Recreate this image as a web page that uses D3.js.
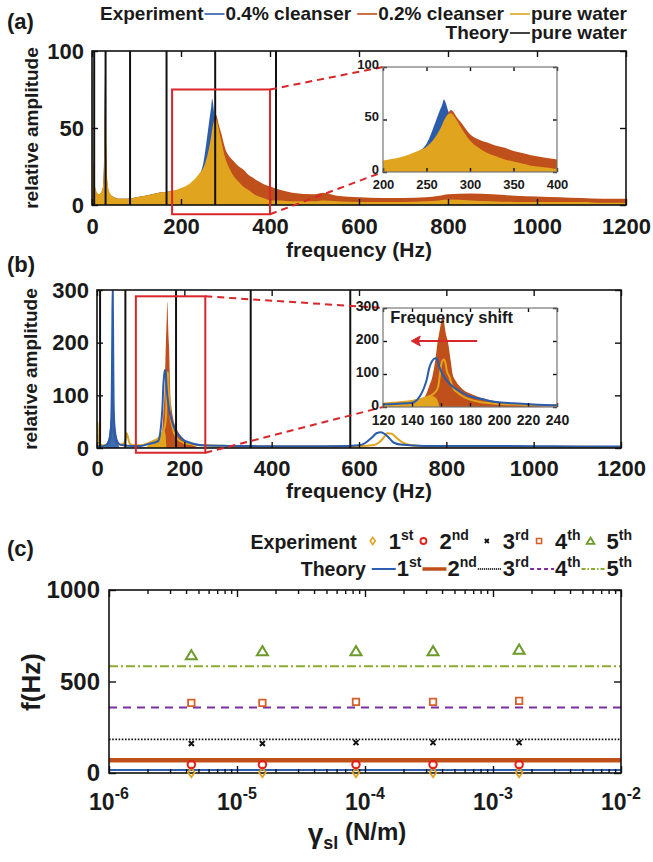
<!DOCTYPE html>
<html><head><meta charset="utf-8">
<script src="https://cdn.jsdelivr.net/npm/d3@7/dist/d3.min.js"></script>
<style>html,body{margin:0;padding:0;background:#fff;}</style>
</head><body>
<svg id="chart" width="653" height="862" xmlns="http://www.w3.org/2000/svg"></svg>
<script>
// ================= DATA =================
// ---- Panel (a): spectra (upper envelope of relative amplitude) ----
const freqA = [0, 1, 2, 4, 7, 10, 15, 20, 25, 27, 29, 30, 31, 33, 36, 40, 50, 60, 80, 100, 120, 150, 180, 200, 220, 240, 250, 260, 265, 268, 270, 272, 275, 278, 280, 285, 290, 300, 310, 320, 330, 340, 350, 360, 370, 380, 390, 400, 420, 450, 500, 520, 550, 600, 650, 700, 750, 780, 800, 850, 900, 950, 1000, 1050, 1100, 1150, 1200];
const amp04A = [20, 95, 35, 15, 10, 8, 6, 7, 12, 30, 80, 100, 60, 20, 10, 7, 5, 4, 4, 5, 6, 8, 9, 10, 13, 19, 27, 47, 58, 64, 69, 66, 58, 52, 48, 40, 34, 26, 20, 15, 12, 10, 8, 6, 5, 4, 3.5, 3, 3, 2.5, 2.5, 2.5, 2, 2, 2, 2, 2, 2, 2.5, 3, 3, 2, 2, 2, 1.5, 1.5, 1.5];
const amp02A = [15, 90, 35, 18, 11, 8, 7, 8, 12, 25, 65, 93, 55, 22, 11, 7, 5, 4, 4, 5, 6, 8, 9, 10, 13, 18, 22, 30, 36, 42, 47, 52, 56, 59, 58, 52, 47, 36, 31, 28, 25, 23, 20, 18, 16, 14.5, 13, 12, 10, 8, 7, 8, 6, 5, 4.5, 4.5, 5, 6, 7, 7.5, 7, 6, 5.5, 5, 4.5, 4, 4];
const ampWaterA = [20, 100, 40, 20, 12, 9, 7, 8, 12, 25, 70, 95, 60, 25, 12, 8, 5, 4, 4, 5, 6, 8, 9, 11, 14, 20, 24, 33, 40, 45, 49, 52, 55, 56, 55, 49, 42, 30, 23, 18, 15, 12, 10, 8, 6, 5, 4, 3, 3, 2.5, 2.5, 3, 2.5, 2, 2, 2, 2.5, 3, 3.5, 3, 2.5, 2, 2, 2, 2, 1.5, 1.5];
const theoryA = [4.9, 30.5, 85.5, 167.5, 276.8, 413.5];
const xTicksA = [0, 200, 400, 600, 800, 1000, 1200];
const yTicksA = [0, 50, 100];
const xTicksAInset = [200, 250, 300, 350, 400];
const yTicksAInset = [0, 50, 100];

// ---- Panel (b) ----
const freq04B = [0, 2, 5, 10, 20, 28, 32, 34, 35, 36, 37, 38, 40, 45, 50, 60, 80, 100, 120, 130, 140, 145, 148, 150, 152, 154, 156, 157, 159, 161, 164, 168, 172, 176, 181, 186, 192, 198, 210, 221, 240, 300, 400, 500, 580, 600, 615, 630, 640, 650, 660, 670, 680, 700, 750, 800, 900, 1000, 1100, 1200];
const amp04B = [5, 4, 3, 3, 5, 15, 40, 120, 220, 310, 200, 90, 40, 15, 8, 5, 4, 4, 8, 10, 13, 30, 55, 80, 120, 140, 148, 147, 120, 100, 80, 62, 50, 40, 31, 26, 20, 15, 11, 8, 5, 4, 3.5, 3.5, 4, 5, 10, 20, 28, 30, 26, 18, 10, 6, 4, 4, 4, 3.5, 3, 3];
const freq04BNoise = [16, 22, 27, 30, 33, 35, 36, 38, 40, 43, 47, 52];
const amp04BNoise = [0, 8, 20, 40, 70, 100, 105, 75, 55, 30, 12, 0];
const freq02B = [0, 100, 130, 140, 145, 148, 150, 152, 154, 156, 157.5, 159, 160, 161, 162, 163, 165, 167, 168, 170, 173, 176, 180, 185, 190, 195, 200, 210, 220, 230, 250, 1200];
const amp02B = [1, 1, 2, 5, 11, 25, 41, 65, 91, 140, 192, 230, 255, 278, 262, 230, 192, 130, 100, 80, 62, 50, 41, 32, 25, 20, 16, 11, 5, 2, 1, 1];
const freqWaterB = [0, 1, 2, 4, 8, 15, 25, 32, 35, 36, 37, 40, 50, 60, 65, 68, 71, 75, 85, 100, 120, 130, 140, 150, 155, 158, 159, 160, 161, 162, 163, 164, 166, 168, 172, 176, 182, 187, 198, 215, 240, 300, 400, 500, 600, 630, 645, 655, 665, 675, 685, 700, 720, 750, 800, 1000, 1200];
const ampWaterB = [20, 50, 25, 10, 6, 5, 6, 20, 60, 100, 50, 15, 6, 8, 15, 28, 20, 8, 5, 5, 10, 14, 18, 30, 40, 60, 90, 125, 140, 144, 135, 110, 90, 60, 42, 30, 20, 15, 10, 7, 5, 4, 3, 3, 3.5, 5, 10, 18, 28, 27, 20, 10, 5, 3.5, 3, 2.5, 2];
const freqWaterBNoise = [112, 120, 130, 140, 146, 150, 154, 157, 159];
const ampWaterBNoise = [0, 8, 14, 20, 25, 28, 33, 25, 0];
const theoryB = [7, 65, 181, 352, 580];
const xTicksB = [0, 200, 400, 600, 800, 1000, 1200];
const yTicksB = [0, 100, 200, 300];
const xTicksBInset = [120, 140, 160, 180, 200, 220, 240];
const yTicksBInset = [0, 100, 200, 300];

// ---- Panel (c) ----
const gammaExp = [4.4e-6, 1.58e-5, 8.5e-5, 3.4e-4, 1.6e-3];
const exp1st = [3, 3, 3, 3, 3];
const exp2nd = [46, 46, 46, 46, 46];
const exp3rd = [161, 161, 166, 166, 166];
const exp4th = [383, 383, 389, 389, 394];
const exp5th = [644, 666, 666, 666, 675];
const theoryC = [16, 70, 184, 358, 584];
const modeLabels = ['1', '2', '3', '4', '5'];
const modeSup = ['st', 'nd', 'rd', 'th', 'th'];
const xTicksC = [1e-6, 1e-5, 1e-4, 1e-3, 1e-2];
const xTickExpC = ['-6', '-5', '-4', '-3', '-2'];
const yTicksC = [0, 500, 1000];

// ================= STYLE =================
const FONT = "'Liberation Sans', Arial, Helvetica, sans-serif";
const INK = '#1a1a1a';
const BLUE = '#2b5cab', ORANGE = '#bf4f1b', GOLD = '#e0a41e';
const RED = '#d8262a';
const C1 = '#e0a020', C2 = '#e3201b', C3 = '#111', C4 = '#d2612c', C5 = '#6b9b2b';
const T1 = '#2e5fae', T2 = '#c0501a', T3 = '#111', T4 = '#7b2f9e', T5 = '#8aab2f';

const svg = d3.select('#chart');
const defs = svg.append('defs');
function clip(id, x0, y0, w, h) {
  defs.append('clipPath').attr('id', id).append('rect').attr('x', x0).attr('y', y0).attr('width', w).attr('height', h);
  return `url(#${id})`;
}
function styleAxis(sel, fs) {
  sel.attr('font-family', FONT).attr('font-size', fs).attr('font-weight', 'bold');
  sel.select('.domain').remove();
  sel.selectAll('.tick line').attr('stroke', '#111').attr('stroke-width', 1.4);
  sel.selectAll('.tick text').attr('fill', INK);
}
function boxAxes(g, x, y, o) {
  const [x0, x1] = x.range(); const [yb, yt] = y.range();
  const b = g.append('g').attr('transform', `translate(0,${yb})`)
    .call(d3.axisBottom(x).tickValues(o.xt).tickSize(-o.ts).tickPadding(o.xp).tickFormat(d => d));
  styleAxis(b, o.fs);
  const t = g.append('g').attr('transform', `translate(0,${yt})`)
    .call(d3.axisTop(x).tickValues(o.xt).tickSize(-o.ts).tickFormat(''));
  styleAxis(t, o.fs);
  const l = g.append('g').attr('transform', `translate(${x0},0)`)
    .call(d3.axisLeft(y).tickValues(o.yt).tickSize(-o.ts).tickPadding(o.yp).tickFormat(d => d));
  styleAxis(l, o.fs);
  if (o.ydy !== undefined) l.selectAll('.tick text').attr('dy', o.ydy);
  const r = g.append('g').attr('transform', `translate(${x1},0)`)
    .call(d3.axisRight(y).tickValues(o.yt).tickSize(-o.ts).tickFormat(''));
  styleAxis(r, o.fs);
  g.append('rect').attr('x', x0).attr('y', yt).attr('width', x1 - x0).attr('height', yb - yt)
    .attr('fill', 'none').attr('stroke', o.frame || '#111').attr('stroke-width', o.fw || 1.6);
}
function areaGen(x, y) {
  return d3.area().x(d => x(d[0])).y0(y(0)).y1(d => y(d[1])).curve(d3.curveMonotoneX);
}
function lineGen(x, y) {
  return d3.line().x(d => x(d[0])).y(d => y(d[1])).curve(d3.curveMonotoneX);
}
function text(g, x, y, s, fs, anchor) {
  return g.append('text').attr('x', x).attr('y', y).attr('font-family', FONT).attr('font-weight', 'bold')
    .attr('font-size', fs).attr('fill', INK).attr('text-anchor', anchor || 'start').text(s);
}
function drawMarker(g, shape, cx, cy, s, color, sw) {
  let p;
  if (shape === 'circle') {
    g.append('circle').attr('cx', cx).attr('cy', cy).attr('r', s / 2).attr('fill', 'none').attr('stroke', color).attr('stroke-width', sw);
    return;
  }
  if (shape === 'diamond') p = `M${cx},${cy - s * 0.6}L${cx + s * 0.42},${cy}L${cx},${cy + s * 0.6}L${cx - s * 0.42},${cy}Z`;
  if (shape === 'square') p = `M${cx - s / 2},${cy - s / 2}h${s}v${s}h${-s}Z`;
  if (shape === 'triangle') p = `M${cx},${cy - s * 0.5}L${cx + s * 0.55},${cy + s * 0.42}L${cx - s * 0.55},${cy + s * 0.42}Z`;
  if (shape === 'x') p = `M${cx - s / 2},${cy - s / 2}L${cx + s / 2},${cy + s / 2}M${cx - s / 2},${cy + s / 2}L${cx + s / 2},${cy - s / 2}`;
  g.append('path').attr('d', p).attr('fill', 'none').attr('stroke', color).attr('stroke-width', sw).attr('stroke-linejoin', 'miter');
}
function legendRow(g, items, xRight, yBase) {
  let x = 0; const placed = [];
  for (const it of items) {
    if (it.gap !== undefined) { x += it.gap; continue; }
    if (it.text !== undefined) {
      const t = g.append('text').attr('y', yBase).attr('font-family', FONT).attr('font-weight', 'bold')
        .attr('font-size', it.fs).attr('fill', INK);
      t.append('tspan').text(it.text);
      if (it.sup) t.append('tspan').attr('font-size', Math.round(it.fs * 0.64)).attr('dy', -it.fs * 0.42).text(it.sup);
      const w = t.node().getComputedTextLength();
      placed.push({ kind: 'text', x, t }); x += w;
    } else {
      placed.push({ kind: 'sym', x, it }); x += it.w;
    }
  }
  const off = xRight - x;
  for (const p of placed) {
    if (p.kind === 'text') { p.t.attr('x', p.x + off); continue; }
    const it = p.it, cy = yBase - (it.dy || 6), x0 = p.x + off;
    if (it.line) g.append('line').attr('x1', x0 + 1).attr('x2', x0 + it.w - 1).attr('y1', cy).attr('y2', cy)
      .attr('stroke', it.color).attr('stroke-width', it.sw || 1.6).attr('stroke-dasharray', it.dash || null);
    if (it.marker) drawMarker(g, it.marker, x0 + it.w / 2, cy, it.size, it.color, it.sw || 1.5);
  }
}

// ================= PANEL (a) =================
const gA = svg.append('g');
const xA = d3.scaleLinear([0, 1200], [92, 626]);
const yA = d3.scaleLinear([0, 100], [205, 51]);
const clipA = clip('clipA', 92, 51, 534, 154);
const pa = gA.append('g').attr('clip-path', clipA);
const seriesA = [[amp04A, BLUE], [amp02A, ORANGE], [ampWaterA, GOLD]];
seriesA.forEach(([v, c]) => pa.append('path').datum(d3.zip(freqA, v)).attr('d', areaGen(xA, yA)).attr('fill', c));
pa.selectAll('line.th').data(theoryA).join('line').attr('class', 'th')
  .attr('x1', d => xA(d)).attr('x2', d => xA(d)).attr('y1', yA(0)).attr('y2', yA(100))
  .attr('stroke', '#111').attr('stroke-width', 2);
boxAxes(gA, xA, yA, { xt: xTicksA, yt: yTicksA, ts: 6, xp: 13, yp: 8, fs: 22 });
text(gA, 7, 29, '(a)', 22);
text(gA, (92 + 626) / 2, 257, 'frequency (Hz)', 21, 'middle');
text(gA, 0, 0, 'relative amplitude', 19, 'middle').attr('transform', `translate(38,128) rotate(-90)`);
// legend (a)
legendRow(gA, [
  { text: 'Experiment', fs: 19 }, { line: true, color: BLUE, w: 22, sw: 1.6 }, { text: '0.4% cleanser', fs: 19 }, { gap: 5 },
  { line: true, color: ORANGE, w: 22, sw: 1.6 }, { text: '0.2% cleanser', fs: 19 }, { gap: 5 },
  { line: true, color: GOLD, w: 22, sw: 1.6 }, { text: 'pure water', fs: 19 }
], 627, 20);
legendRow(gA, [
  { text: 'Theory', fs: 19 }, { line: true, color: '#111', w: 22, sw: 1.6 }, { text: 'pure water', fs: 19 }
], 627, 39);
// zoom box (a)
const rA = { f0: 180, f1: 400, a0: -6, a1: 75 };
const insA = { x0: 383, x1: 557, y0: 67, y1: 172 };
gA.append('rect').attr('x', xA(rA.f0)).attr('y', yA(rA.a1)).attr('width', xA(rA.f1) - xA(rA.f0)).attr('height', yA(rA.a0) - yA(rA.a1))
  .attr('fill', 'none').attr('stroke', RED).attr('stroke-width', 2);
[[yA(rA.a1), insA.y0], [yA(rA.a0), insA.y1]].forEach(([ys, ye]) =>
  gA.append('line').attr('x1', xA(rA.f1)).attr('y1', ys).attr('x2', insA.x0).attr('y2', ye)
    .attr('stroke', RED).attr('stroke-width', 2).attr('stroke-dasharray', '7,5'));
// inset (a)
const giA = gA.append('g');
const xAi = d3.scaleLinear([200, 400], [insA.x0, insA.x1]);
const yAi = d3.scaleLinear([0, 100], [insA.y1, insA.y0]);
giA.append('rect').attr('x', insA.x0).attr('y', insA.y0).attr('width', insA.x1 - insA.x0).attr('height', insA.y1 - insA.y0).attr('fill', '#fff');
const piA = giA.append('g').attr('clip-path', clip('clipAi', insA.x0, insA.y0, insA.x1 - insA.x0, insA.y1 - insA.y0));
seriesA.forEach(([v, c]) => piA.append('path').datum(d3.zip(freqA, v)).attr('d', areaGen(xAi, yAi)).attr('fill', c));
boxAxes(giA, xAi, yAi, { xt: xTicksAInset, yt: yTicksAInset, ts: 4, xp: 8, yp: 4, fs: 13, frame: '#777', fw: 1.2, ydy: '0.1em' });

// ================= PANEL (b) =================
const gB = svg.append('g');
const xB = d3.scaleLinear([0, 1200], [97, 621]);
const yB = d3.scaleLinear([0, 300], [448, 290]);
const pb = gB.append('g').attr('clip-path', clip('clipB', 97, 290, 524, 158));
function drawB(p, x, y) {
  p.append('path').datum(d3.zip(freq02B, amp02B)).attr('d', areaGen(x, y)).attr('fill', ORANGE);
  p.append('path').datum(d3.zip(freqWaterBNoise, ampWaterBNoise)).attr('d', areaGen(x, y)).attr('fill', GOLD);
  p.append('path').datum(d3.zip(freqWaterB, ampWaterB)).attr('d', lineGen(x, y)).attr('fill', 'none').attr('stroke', GOLD).attr('stroke-width', 2);
  p.append('path').datum(d3.zip(freq04BNoise, amp04BNoise)).attr('d', areaGen(x, y)).attr('fill', BLUE).attr('opacity', 0.9);
  p.append('path').datum(d3.zip(freq04B, amp04B)).attr('d', lineGen(x, y)).attr('fill', 'none').attr('stroke', BLUE).attr('stroke-width', 2);
}
drawB(pb, xB, yB);
pb.selectAll('line.th').data(theoryB).join('line').attr('class', 'th')
  .attr('x1', d => xB(d)).attr('x2', d => xB(d)).attr('y1', yB(0)).attr('y2', yB(300))
  .attr('stroke', '#111').attr('stroke-width', 2);
boxAxes(gB, xB, yB, { xt: xTicksB, yt: yTicksB, ts: 6, xp: 12, yp: 8, fs: 22 });
text(gB, 7, 272, '(b)', 22);
text(gB, (97 + 621) / 2, 498, 'frequency (Hz)', 21, 'middle');
text(gB, 0, 0, 'relative amplitude', 19, 'middle').attr('transform', `translate(37,369) rotate(-90)`);
const rB = { f0: 89, f1: 248, a0: -9, a1: 288 };
const insB = { x0: 383, x1: 557, y0: 308, y1: 407 };
gB.append('rect').attr('x', xB(rB.f0)).attr('y', yB(rB.a1)).attr('width', xB(rB.f1) - xB(rB.f0)).attr('height', yB(rB.a0) - yB(rB.a1))
  .attr('fill', 'none').attr('stroke', RED).attr('stroke-width', 2);
[[yB(rB.a1), insB.y0], [yB(rB.a0), insB.y1]].forEach(([ys, ye]) =>
  gB.append('line').attr('x1', xB(rB.f1)).attr('y1', ys).attr('x2', insB.x0).attr('y2', ye)
    .attr('stroke', RED).attr('stroke-width', 2).attr('stroke-dasharray', '7,5'));
const giB = gB.append('g');
const xBi = d3.scaleLinear([120, 240], [insB.x0, insB.x1]);
const yBi = d3.scaleLinear([0, 300], [insB.y1, insB.y0]);
giB.append('rect').attr('x', insB.x0).attr('y', insB.y0).attr('width', insB.x1 - insB.x0).attr('height', insB.y1 - insB.y0).attr('fill', '#fff');
const piB = giB.append('g').attr('clip-path', clip('clipBi', insB.x0, insB.y0, insB.x1 - insB.x0, insB.y1 - insB.y0));
drawB(piB, xBi, yBi);
boxAxes(giB, xBi, yBi, { xt: xTicksBInset, yt: yTicksBInset, ts: 4, xp: 8, yp: 4, fs: 14, frame: '#777', fw: 1.2, ydy: '0.2em' });
text(giB, xBi(125), 323, 'Frequency shift', 16.5);
// arrow
giB.append('line').attr('x1', xBi(185)).attr('x2', xBi(142)).attr('y1', yBi(200)).attr('y2', yBi(200)).attr('stroke', RED).attr('stroke-width', 2);
giB.append('path').attr('d', `M${xBi(139.5)},${yBi(200)}l9,-5l-2,5l2,5z`).attr('fill', RED).attr('stroke', RED).attr('stroke-width', 1);

// ================= PANEL (c) =================
const gC = svg.append('g');
const xC = d3.scaleLog([1e-6, 1e-2], [109, 621]);
const yC = d3.scaleLinear([0, 1000], [773, 590]);
const pc = gC.append('g').attr('clip-path', clip('clipC', 109, 590, 512, 183));
const thStyles = [
  { c: T1, w: 2, dash: null }, { c: T2, w: 4.5, dash: null }, { c: T3, w: 1.8, dash: '1.6,1.6' },
  { c: T4, w: 2, dash: '8,6' }, { c: T5, w: 2, dash: '9,3,2,3' }
];
theoryC.forEach((f, i) => pc.append('line').attr('x1', 109).attr('x2', 621).attr('y1', yC(f)).attr('y2', yC(f))
  .attr('stroke', thStyles[i].c).attr('stroke-width', thStyles[i].w).attr('stroke-dasharray', thStyles[i].dash));
// axes (c)
const minorC = [];
for (let e = -6; e < -2; e++) for (let m = 2; m <= 9; m++) minorC.push(m * Math.pow(10, e));
[[773, d3.axisBottom], [590, d3.axisTop]].forEach(([yy, ax]) => {
  const a = gC.append('g').attr('transform', `translate(0,${yy})`).call(ax(xC).tickValues(xTicksC).tickSize(-7).tickFormat(''));
  styleAxis(a, 20);
  const m = gC.append('g').attr('transform', `translate(0,${yy})`).call(ax(xC).tickValues(minorC).tickSize(-4).tickFormat(''));
  styleAxis(m, 20);
});
const lC = gC.append('g').attr('transform', 'translate(109,0)').call(d3.axisLeft(yC).tickValues(yTicksC).tickSize(-7).tickPadding(9).tickFormat(d => d));
styleAxis(lC, 24);
const rC = gC.append('g').attr('transform', 'translate(621,0)').call(d3.axisRight(yC).tickValues(yTicksC).tickSize(-7).tickFormat(''));
styleAxis(rC, 24);
gC.append('rect').attr('x', 109).attr('y', 590).attr('width', 512).attr('height', 183).attr('fill', 'none').attr('stroke', '#111').attr('stroke-width', 1.6);
xTicksC.forEach((v, i) => {
  const t = text(gC, xC(v), 810, '', 23, 'middle');
  t.append('tspan').text('10');
  t.append('tspan').attr('font-size', 16).attr('dy', -11).text(xTickExpC[i]);
});
// markers
const expSets = [[exp1st, 'diamond', C1, 8, 1.8], [exp2nd, 'circle', C2, 7.5, 2], [exp3rd, 'x', C3, 5, 2], [exp4th, 'square', C4, 6.5, 1.8], [exp5th, 'triangle', C5, 10, 2]];
expSets.forEach(([vals, shape, col, s, sw]) => vals.forEach((v, j) => drawMarker(gC, shape, xC(gammaExp[j]), yC(v), s, col, sw)));
// labels (c)
text(gC, 7, 556, '(c)', 22);
text(gC, 0, 0, 'f(Hz)', 26, 'middle').attr('transform', 'translate(40,682) rotate(-90)');
const xl = gC.append('text').attr('x', 357).attr('y', 843).attr('font-family', FONT).attr('font-weight', 'bold').attr('fill', INK).attr('text-anchor', 'middle').attr('font-size', 28);
xl.append('tspan').text('γ');
xl.append('tspan').attr('font-size', 18).attr('dy', 6).text('sl');
xl.append('tspan').attr('font-size', 24).attr('dy', -9).text(' (N/m)');
// legend (c)
const expMarkers = [['diamond', C1, 6, 1.6], ['circle', C2, 6, 1.8], ['x', C3, 4, 1.8], ['square', C4, 5, 1.6], ['triangle', C5, 7, 1.8]];
const row1 = [{ text: 'Experiment', fs: 19.5 }];
modeLabels.forEach((m, i) => {
  row1.push({ gap: i === 0 ? 11 : (i === 2 ? 13 : 5) }, { marker: expMarkers[i][0], color: expMarkers[i][1], size: expMarkers[i][2], sw: expMarkers[i][3], w: 10, dy: 8 }, { gap: 11 });
  row1.push({ text: m, sup: modeSup[i], fs: 22 });
});
legendRow(gC, row1, 632, 549);
const row2 = [{ text: 'Theory', fs: 19.5 }, { gap: 5 }];
modeLabels.forEach((m, i) => {
  row2.push({ line: true, color: thStyles[i].c, sw: Math.min(thStyles[i].w, 3.5), dash: thStyles[i].dash ? (i === 2 ? '1,1' : i === 3 ? '4,3' : '4,2,1.5,2') : null, w: 26, dy: 7 });
  row2.push({ text: m, sup: modeSup[i], fs: 22 });
});
legendRow(gC, row2, 632, 576);
</script>
</body></html>
